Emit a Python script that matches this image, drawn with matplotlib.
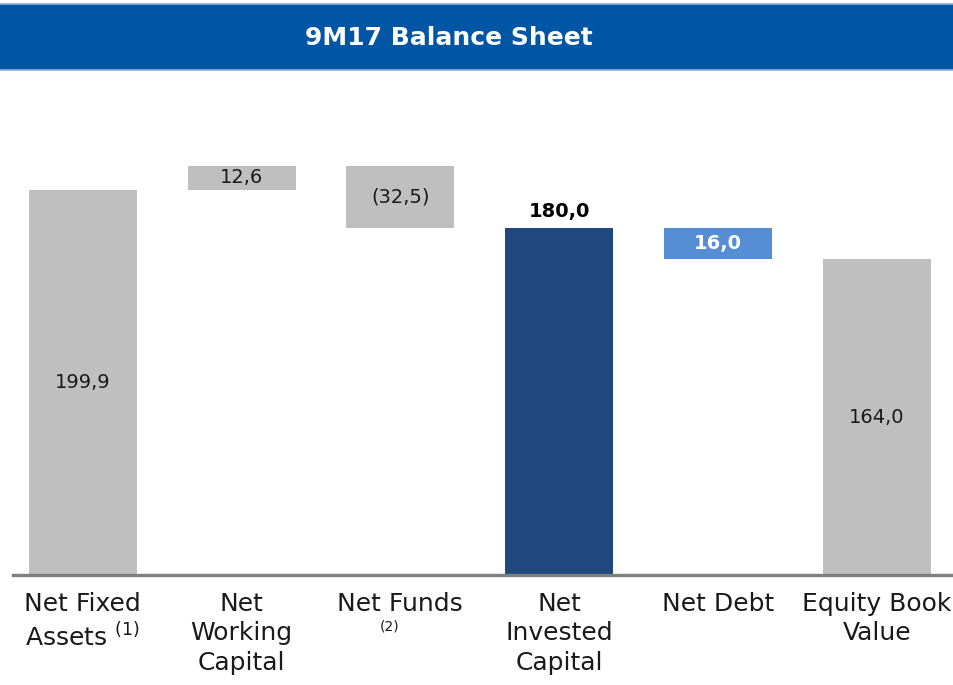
import matplotlib
matplotlib.use("Agg")
import matplotlib.pyplot as plt
from matplotlib.patches import Rectangle
import matplotlib.transforms as mtransforms

# ---- data ----
categories = ["Net Fixed\nAssets", "Net\nWorking\nCapital", "Net Funds",
              "Net\nInvested\nCapital", "Net Debt", "Equity Book\nValue"]
values = [199.9, 12.6, -32.5, 180.0, -16.0, 164.0]
kinds = ["total", "delta", "delta", "total", "delta", "total"]
value_labels = ["199,9", "12,6", "(32,5)", "180,0", "16,0", "164,0"]
footnotes = ["(1)", "", "(2)", "", "", ""]
title = "9M17 Balance Sheet"

# ---- style ----
GRAY = "#BFBFBF"
NAVY = "#1F497D"
LIGHTBLUE = "#558ED5"
BANNER = "#0055A5"
bar_colors = [GRAY, GRAY, GRAY, NAVY, LIGHTBLUE, GRAY]

fig = plt.figure(figsize=(9.54, 6.85), dpi=100)
fig.patch.set_facecolor("white")

# banner
fig.patches.append(Rectangle((0, 0.8978), 1, 0.0964, transform=fig.transFigure,
                             facecolor=BANNER, edgecolor="none", zorder=0))
for yy in (0.8978, 0.8978 + 0.0964):
    fig.add_artist(plt.Line2D([0, 1], [yy, yy], transform=fig.transFigure,
                              color="#8FB2D8", lw=1.2))
fig.text(0.47, 0.945, title, color="white", fontsize=18, fontweight="bold",
         ha="center", va="center", family="DejaVu Sans")

ax = fig.add_axes([0.0136, 0.1606, 0.986, 0.6934])
ax.set_xlim(-0.44, 5.485)
ax.set_ylim(0, 246.6)

# waterfall geometry computed from values
bottoms, heights = [], []
running = 0.0
for v, k in zip(values, kinds):
    if k == "total":
        bottoms.append(0.0)
        heights.append(v)
        running = v
    else:
        new = running + v
        bottoms.append(min(running, new))
        heights.append(abs(v))
        running = new

x = list(range(len(categories)))
ax.bar(x, heights, bottom=bottoms, width=0.68, color=bar_colors, edgecolor="none", zorder=2)

# value labels
for i, (b, h, lab) in enumerate(zip(bottoms, heights, value_labels)):
    if i == 3:
        ax.text(i, b + h + 4, lab, ha="center", va="bottom", fontsize=14,
                fontweight="bold", color="black")
    elif i == 4:
        ax.text(i, b + h / 2, lab, ha="center", va="center", fontsize=14,
                fontweight="bold", color="white")
    else:
        ax.text(i, b + h / 2, lab, ha="center", va="center", fontsize=14,
                color="#1a1a1a")

for s in ("top", "right", "left"):
    ax.spines[s].set_visible(False)
ax.spines["bottom"].set_color("#7F7F7F")
ax.spines["bottom"].set_linewidth(2.4)
ax.set_yticks([])
ax.set_xticks([])

trans = mtransforms.blended_transform_factory(ax.transData, fig.transFigure)
label_top = 1 - 592 / 685
for i, cat in enumerate(categories):
    lab = cat
    if i == 0 and footnotes[i]:
        lab = cat + r" $^{\mathrm{" + footnotes[i] + "}}$"
    ax.text(i, label_top, lab, transform=trans, ha="center", va="top",
            fontsize=18, color="#1a1a1a", linespacing=1.28)

# footnote marker under "Net Funds"
ax.text(1.93, 1 - 627 / 685, footnotes[2], transform=trans, ha="center", va="center",
        fontsize=10, color="#1a1a1a")

fig.savefig("out.png", dpi=100)
